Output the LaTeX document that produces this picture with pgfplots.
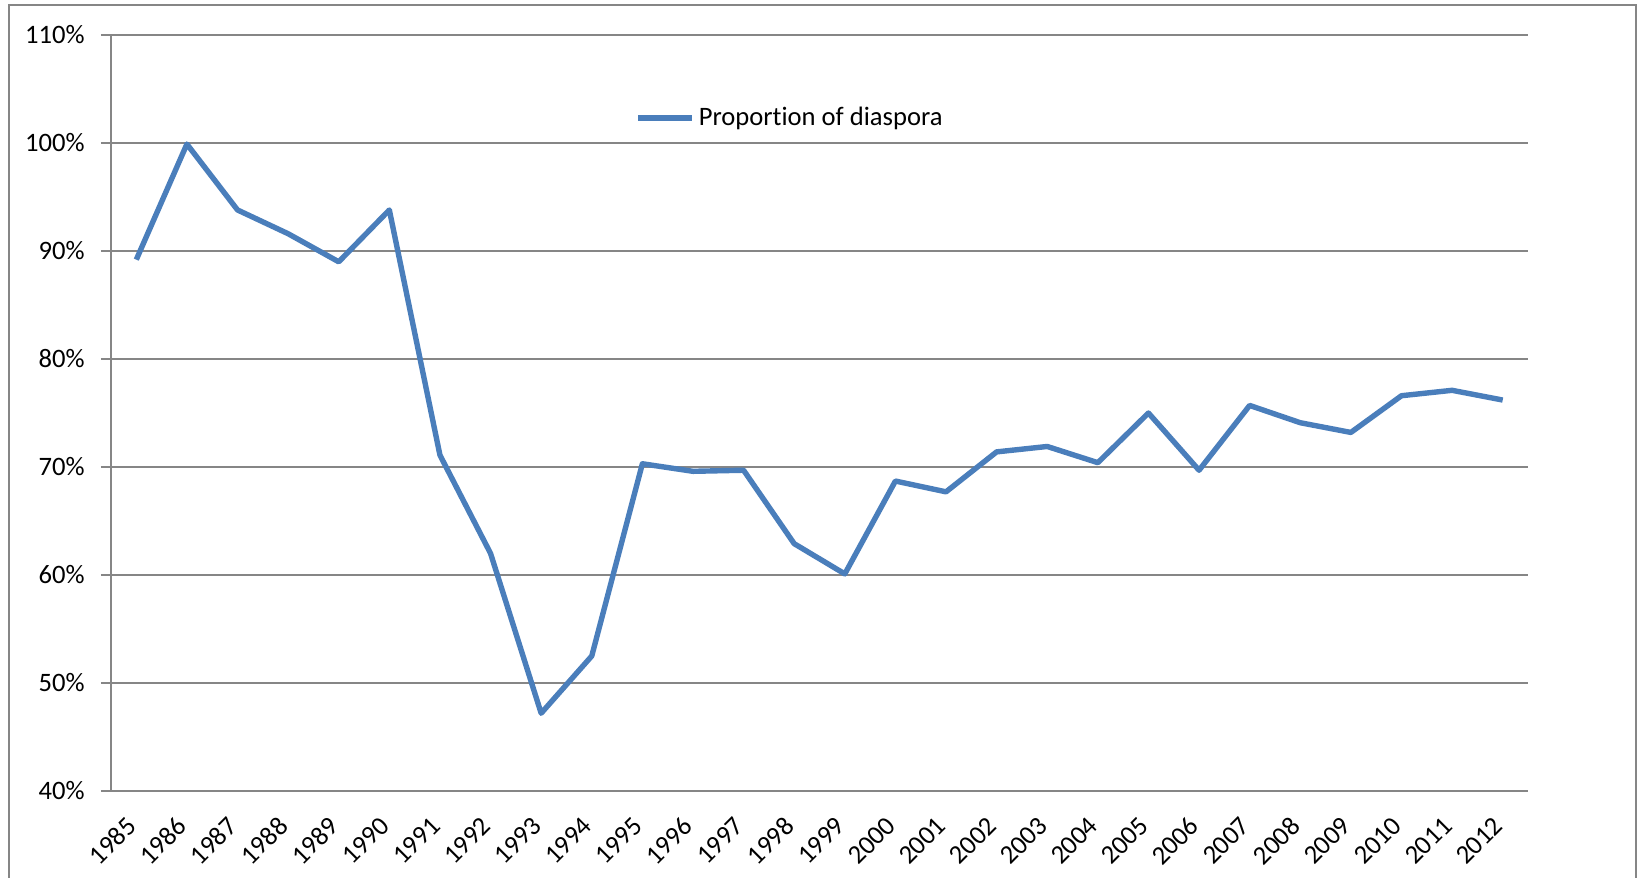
\documentclass[border=0pt]{standalone}
\usepackage{fontspec}
\setmainfont{Carlito}[Ligatures=NoCommon]
\usepackage{graphicx}
\usepackage{pgfplots}
\pgfplotsset{compat=1.18}
\definecolor{linec}{RGB}{74,126,187}
\definecolor{gridc}{RGB}{134,134,134}
\definecolor{borderc}{RGB}{134,134,134}
\newcommand{\rl}[1]{\rotatebox{45}{#1}}
\begin{document}
\begin{tikzpicture}
\useasboundingbox (0,0) rectangle (820pt,439pt);
\fill[white] (0,0) rectangle (820pt,439pt);
\draw[borderc, line width=1pt] (4.25pt,-5pt) -- (4.25pt,436.25pt) -- (818pt,436.25pt) -- (818pt,-5pt);
\begin{axis}[
  at={(55.5pt,43.5pt)}, anchor=south west,
  scale only axis, width=708.5pt, height=378pt,
  xmin=-0.5, xmax=27.5, ymin=40, ymax=110,
  axis x line*=bottom, axis y line*=left,
  axis line style={gridc, line width=0.6pt, -},
  xtick={0,...,27},
  xticklabels={\rl{1985},\rl{1986},\rl{1987},\rl{1988},\rl{1989},\rl{1990},\rl{1991},\rl{1992},\rl{1993},\rl{1994},\rl{1995},\rl{1996},\rl{1997},\rl{1998},\rl{1999},\rl{2000},\rl{2001},\rl{2002},\rl{2003},\rl{2004},\rl{2005},\rl{2006},\rl{2007},\rl{2008},\rl{2009},\rl{2010},\rl{2011},\rl{2012}},
  x tick style={draw=none},
  extra x ticks={-0.5,0.5,...,27.5},
  extra x tick labels={},
  extra x tick style={major tick length=4.5pt, tick align=outside, tick style={gridc, line width=0.6pt}, grid=none},
  ytick={40,50,...,110},
  yticklabels={40\%,50\%,60\%,70\%,80\%,90\%,100\%,110\%},
  ymajorgrids, grid style={gridc, line width=0.6pt},
  y tick style={gridc, line width=0.6pt},
  major tick length=5pt, tick align=outside,
  tick label style={font=\fontsize{13.3}{15}\selectfont, text=black},
  xticklabel style={anchor=north east, inner sep=0pt, xshift=1pt, yshift=-7pt},
  yticklabel style={inner sep=1pt, xshift=-7pt},
  /pgf/number format/assume math mode=true,
  legend style={at={(0.3698,0.890)}, anchor=west, draw=none, fill=none, inner sep=0pt,
    font=\fontsize{13.3}{15}\selectfont, cells={anchor=west}},
  legend image code/.code={\draw[#1] (0pt,0pt) -- (27pt,0pt);},
  clip=false,
]
\addplot[linec, line width=2.7pt, line join=round] coordinates {
(0,89.2) (1,99.9) (2,93.8) (3,91.6) (4,89.0) (5,93.8) (6,71.1) (7,62.0)
(8,47.2) (9,52.5) (10,70.3) (11,69.6) (12,69.7) (13,62.9) (14,60.1)
(15,68.7) (16,67.7) (17,71.4) (18,71.9) (19,70.4) (20,75.0) (21,69.7)
(22,75.7) (23,74.1) (24,73.2) (25,76.6) (26,77.1) (27,76.2)
};
\addlegendentry{Proportion of diaspora}
\end{axis}
\end{tikzpicture}
\end{document}
